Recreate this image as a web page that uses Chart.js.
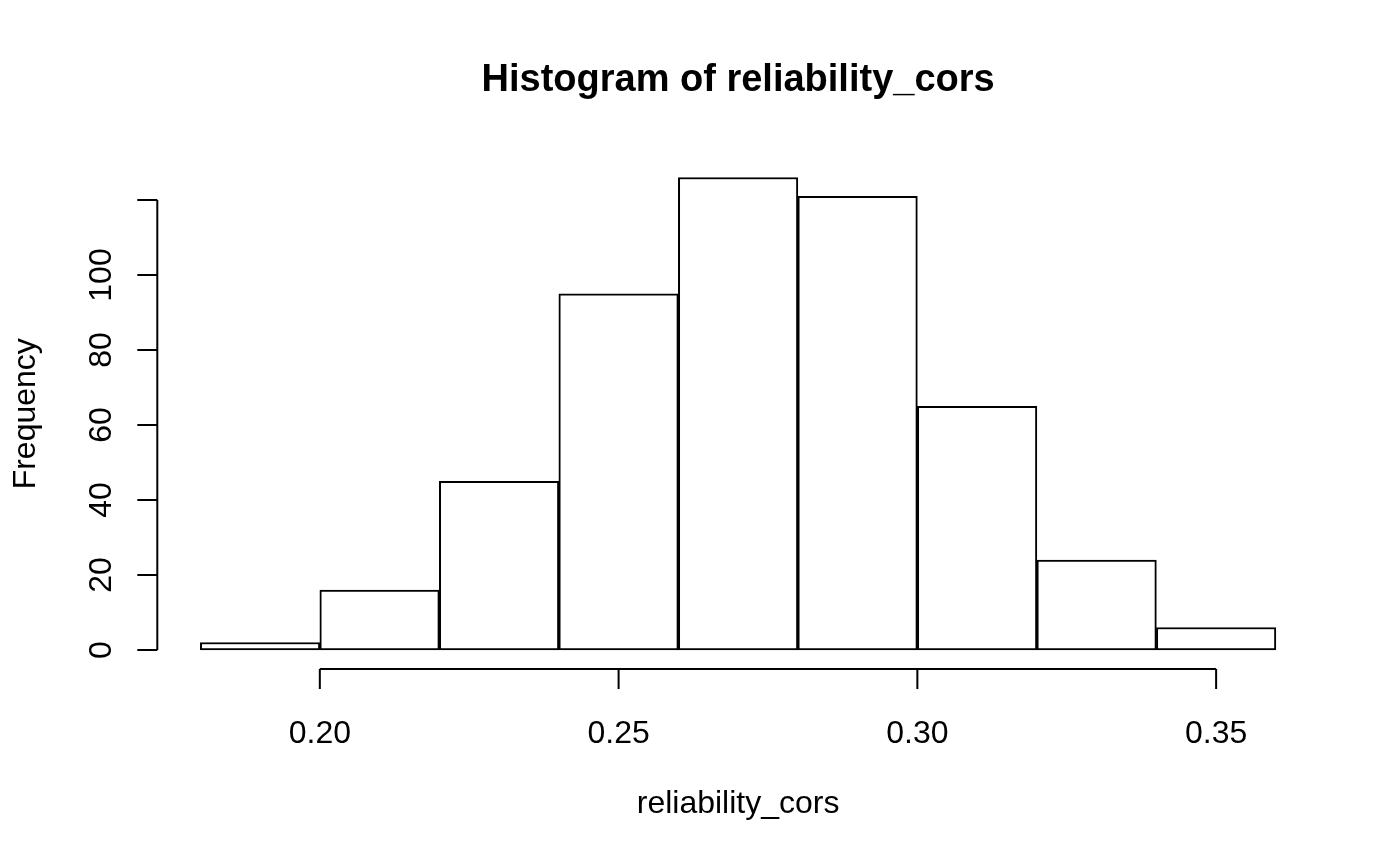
<!DOCTYPE html>
<html>
<head>
<meta charset="utf-8">
<script src="https://cdn.jsdelivr.net/npm/chart.js@4.4.1/dist/chart.umd.min.js"></script>
<style>
  html, body { margin: 0; padding: 0; background: #ffffff; }
  #wrap { width: 1400px; height: 865px; }
</style>
</head>
<body>
<div id="wrap"><canvas id="c" width="1400" height="865"></canvas></div>
<script>
// ---- data ----
const binEdges = [0.18, 0.20, 0.22, 0.24, 0.26, 0.28, 0.30, 0.32, 0.34, 0.36];
const counts = [2, 16, 45, 95, 126, 121, 65, 24, 6];
const xTicks = [0.20, 0.25, 0.30, 0.35];
const xTickLabels = ['0.20', '0.25', '0.30', '0.35'];
const yTicks = [0, 20, 40, 60, 80, 100, 120];
const yTickLabels = ['0', '20', '40', '60', '80', '100', ''];
const titleText = 'Histogram of reliability_cors';
const xTitle = 'reliability_cors';
const yTitle = 'Frequency';

const FONT = '"Liberation Sans", Arial, Helvetica, sans-serif';
const BASE = 32;
const TITLE_SIZE = 38;

const barData = counts.map((c, i) => ({ x: (binEdges[i] + binEdges[i + 1]) / 2, y: c }));

// R-style axis ranges (4% extension)
const xr = binEdges[binEdges.length - 1] - binEdges[0];
const ymax = Math.max(...counts);

const rAxes = {
  id: 'rAxes',
  afterDraw(chart) {
    const ctx = chart.ctx;
    const xs = chart.scales.x, ys = chart.scales.y;
    const ca = chart.chartArea;
    ctx.save();
    ctx.strokeStyle = '#000';
    ctx.fillStyle = '#000';
    ctx.lineWidth = 2;
    ctx.lineCap = 'butt';
    const tick = 20;

    // x axis
    const yAx = ca.bottom;
    ctx.beginPath();
    ctx.moveTo(xs.getPixelForValue(xTicks[0]), yAx);
    ctx.lineTo(xs.getPixelForValue(xTicks[xTicks.length - 1]), yAx);
    xTicks.forEach(v => {
      const px = xs.getPixelForValue(v);
      ctx.moveTo(px, yAx);
      ctx.lineTo(px, yAx + tick);
    });
    ctx.stroke();
    ctx.font = BASE + 'px ' + FONT;
    ctx.textAlign = 'center';
    ctx.textBaseline = 'alphabetic';
    xTicks.forEach((v, i) => {
      ctx.fillText(xTickLabels[i], xs.getPixelForValue(v), 743);
    });

    // y axis
    const xAx = ca.left;
    ctx.beginPath();
    ctx.moveTo(xAx, ys.getPixelForValue(yTicks[0]));
    ctx.lineTo(xAx, ys.getPixelForValue(yTicks[yTicks.length - 1]));
    yTicks.forEach(v => {
      const py = ys.getPixelForValue(v);
      ctx.moveTo(xAx, py);
      ctx.lineTo(xAx - tick, py);
    });
    ctx.stroke();
    yTicks.forEach((v, i) => {
      if (!yTickLabels[i]) return;
      ctx.save();
      ctx.translate(111, ys.getPixelForValue(v));
      ctx.rotate(-Math.PI / 2);
      ctx.fillText(yTickLabels[i], 0, 0);
      ctx.restore();
    });

    // axis titles
    ctx.fillText(xTitle, (ca.left + ca.right) / 2, 813);
    ctx.save();
    ctx.translate(35, (ca.top + ca.bottom) / 2);
    ctx.rotate(-Math.PI / 2);
    ctx.fillText(yTitle, 0, 0);
    ctx.restore();

    // main title
    ctx.font = 'bold ' + TITLE_SIZE + 'px ' + FONT;
    ctx.fillText(titleText, (ca.left + ca.right) / 2, 91);
    ctx.restore();
  }
};

new Chart(document.getElementById('c'), {
  type: 'bar',
  data: {
    datasets: [{
      data: barData,
      backgroundColor: '#ffffff',
      borderColor: '#000000',
      borderWidth: 2,
      borderSkipped: false,
      barPercentage: 1,
      categoryPercentage: 1
    }]
  },
  options: {
    responsive: false,
    animation: false,
    devicePixelRatio: 1,
    layout: { padding: { left: 157.3, right: 81.1, top: 158.6, bottom: 196.1 } },
    plugins: { legend: { display: false }, tooltip: { enabled: false }, title: { display: false } },
    scales: {
      x: { type: 'linear', offset: false, min: binEdges[0] - 0.04 * xr, max: binEdges[binEdges.length - 1] + 0.04 * xr, display: false, grid: { offset: false } },
      y: { type: 'linear', min: -0.04 * ymax, max: ymax * 1.04, display: false }
    }
  },
  plugins: [rAxes]
});
</script>
</body>
</html>
